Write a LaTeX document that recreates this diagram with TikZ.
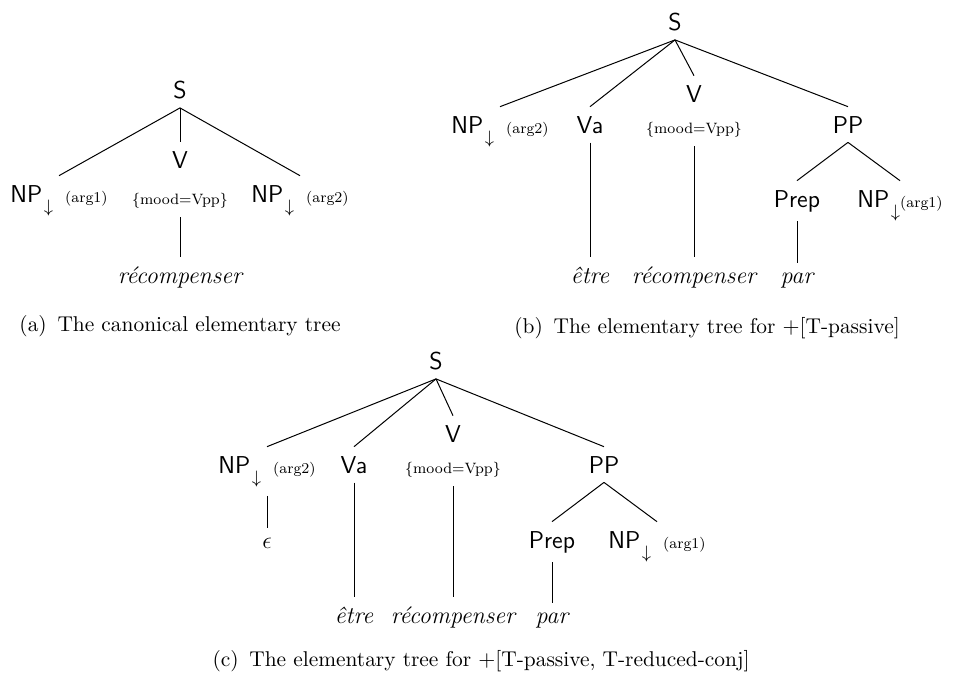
\documentclass[tikz,border=0pt]{standalone}
\usepackage{fontspec}
\begin{document}
\begin{tikzpicture}[x=0.5pt,y=-0.5pt,
  lab/.style={font=\sffamily\fontsize{12.2}{14}\selectfont, inner sep=4.5pt, anchor=base},
  wrd/.style={font=\itshape\fontsize{12}{14}\selectfont, inner sep=4.5pt, anchor=base},
  ann/.style={font=\rmfamily\fontsize{7.5}{9}\selectfont, inner sep=4.5pt, anchor=base},
  capt/.style={font=\rmfamily\fontsize{10.7}{12}\selectfont, inner sep=0pt, anchor=base},
  edge/.style={draw=black, line width=0.5pt}]
\useasboundingbox (0,0) rectangle (962,681);
\newcommand{\argl}[1]{{\rmfamily\fontsize{7.5}{9}\selectfont(arg\oldstylenums{#1})}}
\newcommand{\npd}{NP\kern0.8pt\raisebox{-5pt}{$\scriptstyle\downarrow$}}
% ---------- tree (a)
\node[lab] (aS) at (180,98) {S};
\node[lab] (aNPa) at (59,202) {\npd\hspace{6pt}\argl{1}};
\node[lab] (aV) at (180,168) {V};
\node[ann] (aVm) at (180,204) {\{mood=Vpp\}};
\node[lab] (aNPb) at (300,202) {\npd\hspace{6pt}\argl{2}};
\node[wrd] (aW) at (180,283) {récompenser};
\draw[edge] (aS.south) -- (aNPa.north);
\draw[edge] (aS.south) -- (aV.north);
\draw[edge] (aS.south) -- (aNPb.north);
\draw[edge] (aVm.south) -- (aW.north);
\node[capt] (capa) at (180,331) {(a)\enspace The canonical elementary tree};
% ---------- tree (b)
\node[lab] (bS) at (675,30) {S};
\node[lab] (bNP) at (500,133) {\npd\hspace{6pt}\argl{2}};
\node[lab] (bVa) at (590,133) {Va};
\node[lab] (bV) at (694,102) {V};
\node[ann] (bVm) at (694,133) {\{mood=Vpp\}};
\node[lab] (bPP) at (848,133) {PP};
\node[lab] (bPrep) at (797,207) {Prep};
\node[lab] (bNPa) at (900,207) {\npd\argl{1}};
\node[wrd] (bE) at (590,283) {être};
\node[wrd] (bR) at (694,283) {récompenser};
\node[wrd] (bP) at (797,283) {par};
\draw[edge] (bS.south) -- (bNP.north);
\draw[edge] (bS.south) -- (bVa.north);
\draw[edge] (bS.south) -- (bV.north);
\draw[edge] (bS.south) -- (bPP.north);
\draw[edge] (bVa.south) -- (bE.north);
\draw[edge] (bVm.south) -- (bR.north);
\draw[edge] (bPP.south) -- (bPrep.north);
\draw[edge] (bPP.south) -- (bNPa.north);
\draw[edge] (bPrep.south) -- (bP.north);
\node[capt] (capb) at (707,333) {(b)\enspace The elementary tree for $+$[T-passive]};
% ---------- tree (c)
\node[lab] (cS) at (436,369) {S};
\node[lab] (cNP) at (267,473) {\npd\hspace{6pt}\argl{2}};
\node[lab] (cVa) at (354,473) {Va};
\node[lab] (cV) at (453,442) {V};
\node[ann] (cVm) at (453,473) {\{mood=Vpp\}};
\node[lab] (cPP) at (604,473) {PP};
\node[wrd] (cEps) at (267,548) {$\epsilon$};
\node[lab] (cPrep) at (552,548) {Prep};
\node[lab] (cNPa) at (657,548) {\npd\hspace{6pt}\argl{1}};
\node[wrd] (cE) at (354,623) {être};
\node[wrd] (cR) at (453,623) {récompenser};
\node[wrd] (cP) at (552,623) {par};
\draw[edge] (cS.south) -- (cNP.north);
\draw[edge] (cS.south) -- (cVa.north);
\draw[edge] (cS.south) -- (cV.north);
\draw[edge] (cS.south) -- (cPP.north);
\draw[edge] (cNP.south) -- (cEps.north);
\draw[edge] (cVa.south) -- (cE.north);
\draw[edge] (cVm.south) -- (cR.north);
\draw[edge] (cPP.south) -- (cPrep.north);
\draw[edge] (cPP.south) -- (cNPa.north);
\draw[edge] (cPrep.south) -- (cP.north);
\node[capt] (capc) at (481,666) {(c)\enspace The elementary tree for $+$[T-passive, T-reduced-conj]};
\end{tikzpicture}
\end{document}
